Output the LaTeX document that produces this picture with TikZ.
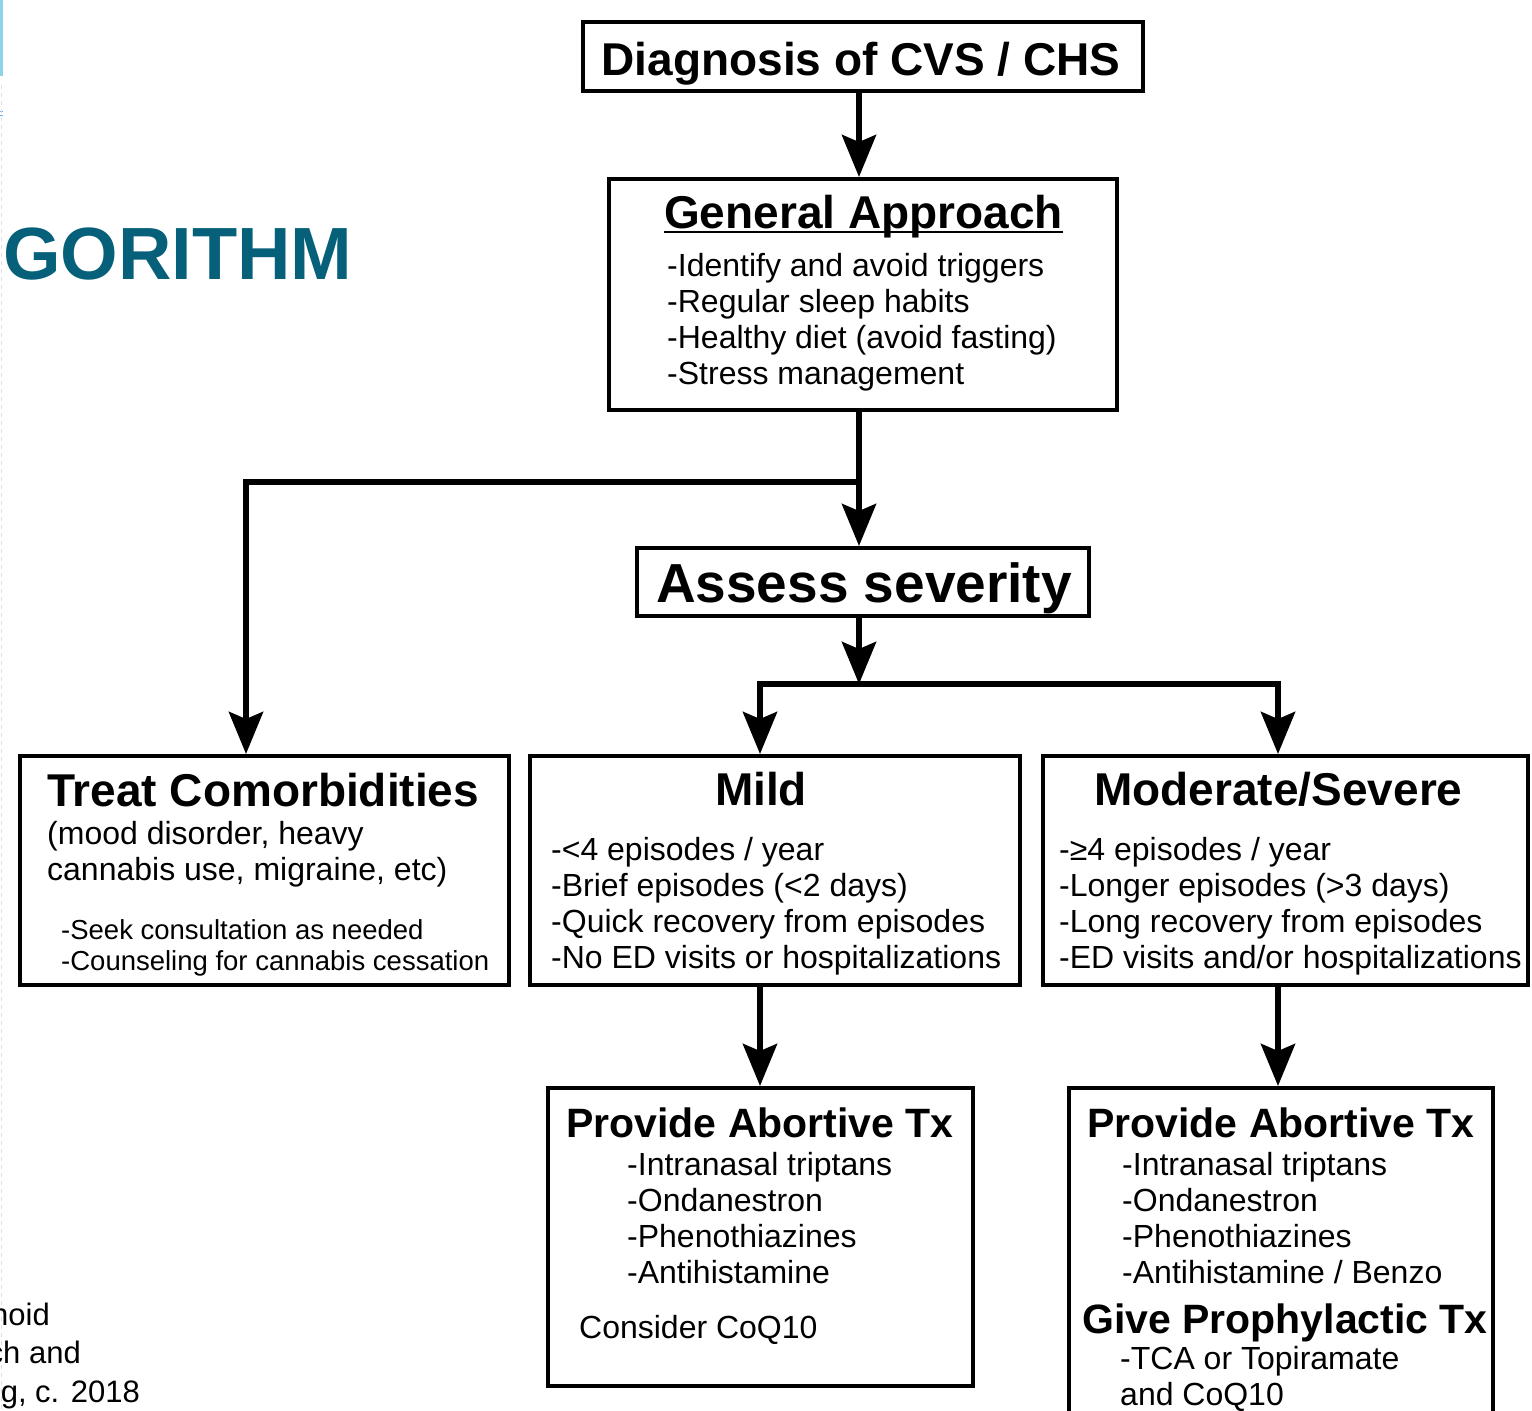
\documentclass[tikz,border=0pt]{standalone}
\usepackage{fontspec}
\setmainfont{Liberation Sans}
\usetikzlibrary{arrows.meta}
\definecolor{slideteal}{HTML}{06607A}
\definecolor{slidebar}{HTML}{8ED3E6}
\begin{document}
\begin{tikzpicture}[x=1pt,y=-1pt,
  box/.style={draw=black, line width=4pt, inner sep=0pt, rectangle},
  arr/.style={line width=6pt, -{Stealth[length=42pt,width=34pt,inset=7pt]}},
  arrtwo/.style={line width=6pt, {Stealth[length=42pt,width=34pt,inset=7pt]}-{Stealth[length=42pt,width=34pt,inset=7pt]}},
  hd/.style={font=\fontsize{46}{50}\selectfont\bfseries, inner sep=0pt},
  hs/.style={font=\fontsize{41}{45}\selectfont\bfseries, inner sep=0pt},
  bd/.style={font=\fontsize{32}{36}\selectfont, inner sep=0pt, anchor=base west},
  sm/.style={font=\fontsize{27.5}{30}\selectfont, inner sep=0pt, anchor=base west},
  edge/.style={font=\fontsize{31}{34}\selectfont, inner sep=0pt, anchor=base east}
]
\useasboundingbox (0,0) rectangle (1532,1411);
\clip (0,0) rectangle (1532,1411);
\fill[white] (0,0) rectangle (1532,1411);

% slide remnants at left edge
\fill[slidebar] (0,0) rectangle (3,76);
\fill[slidebar!80!blue] (0,110.5) rectangle (3,112);
\fill[slidebar!80!blue] (0,114.5) rectangle (3,116);
\draw[black!12, line width=1.5pt, dash pattern=on 4pt off 4pt] (1.5,85) -- (1.5,1411);
\node[font=\fontsize{74}{80}\selectfont\bfseries, text=slideteal, inner sep=0pt, anchor=base west] (algo) at (3,279) {GORITHM};
\node[edge] (ref1) at (50,1325) {noid};
\node[edge] (ref2) at (81,1363) {ch and};
\node[edge] (ref3) at (140,1402) {g, c. 2018};

% boxes
\node[box, minimum width=560pt, minimum height=69pt] (diag) at (863,56.5) {};
\node[box, minimum width=508pt, minimum height=231pt] (gen) at (863,294.5) {};
\node[box, minimum width=452pt, minimum height=68pt] (assess) at (863,582) {};
\node[box, minimum width=489pt, minimum height=229pt] (treat) at (264.5,870.5) {};
\node[box, minimum width=490pt, minimum height=229pt] (mild) at (775,870.5) {};
\node[box, minimum width=485pt, minimum height=229pt] (mod) at (1285.5,870.5) {};
\node[box, minimum width=425pt, minimum height=298pt] (mildtx) at (760.5,1237) {};
\node[box, minimum width=424pt, minimum height=352pt] (modtx) at (1281,1264) {};

% texts
\node[hd, anchor=base] (diagt) at (861,75) {Diagnosis of CVS / CHS};

\node[hd, anchor=base] (gent) at (863.5,228) {General Approach};
\draw[line width=2.5pt] ([yshift=-4pt]gent.base west) -- ([yshift=-4pt]gent.base east);
\node[bd] (g1) at (667,276) {-Identify and avoid triggers};
\node[bd] (g2) at (667,312) {-Regular sleep habits};
\node[bd] (g3) at (667,348) {-Healthy diet (avoid fasting)};
\node[bd] (g4) at (667,384) {-Stress management};

\node[font=\fontsize{55}{60}\selectfont\bfseries, inner sep=0pt, anchor=base] (asst) at (864,602) {Assess severity};

\node[hd, anchor=base west] (treatt) at (47,806) {Treat Comorbidities};
\node[bd] (c1) at (47,844) {(mood disorder, heavy};
\node[bd] (c2) at (47,880) {cannabis use, migraine, etc)};
\node[sm] (c3) at (61,939) {-Seek consultation as needed};
\node[sm] (c4) at (61,970) {-Counseling for cannabis cessation};

\node[hd, anchor=base] (mildt) at (761,805) {Mild};
\node[bd] (m1) at (551,860) {-<4 episodes / year};
\node[bd] (m2) at (551,896) {-Brief episodes (<2 days)};
\node[bd] (m3) at (551,932) {-Quick recovery from episodes};
\node[bd] (m4) at (551,968) {-No ED visits or hospitalizations};

\node[hd, anchor=base] (modt) at (1278.5,805) {Moderate/Severe};
\node[bd] (s1) at (1059,860) {-≥4 episodes / year};
\node[bd] (s2) at (1059,896) {-Longer episodes (>3 days)};
\node[bd] (s3) at (1059,932) {-Long recovery from episodes};
\node[bd] (s4) at (1059,968) {-ED visits and/or hospitalizations};

\node[hs, anchor=base] (mtxt) at (760,1137) {Provide Abortive Tx};
\node[bd] (a1) at (627,1175) {-Intranasal triptans};
\node[bd] (a2) at (627,1211) {-Ondanestron};
\node[bd] (a3) at (627,1247) {-Phenothiazines};
\node[bd] (a4) at (627,1283) {-Antihistamine};
\node[bd] (a5) at (579,1338) {Consider CoQ10};

\node[hs, anchor=base] (stxt) at (1281,1137) {Provide Abortive Tx};
\node[bd] (b1) at (1122,1175) {-Intranasal triptans};
\node[bd] (b2) at (1122,1211) {-Ondanestron};
\node[bd] (b3) at (1122,1247) {-Phenothiazines};
\node[bd] (b4) at (1122,1283) {-Antihistamine / Benzo};
\node[hs, anchor=base] (proph) at (1285,1333) {Give Prophylactic Tx};
\node[bd] (b5) at (1120,1369) {-TCA or Topiramate};
\node[bd] (b6) at (1120,1405) {and CoQ10};

% connectors
\coordinate (br1) at (859,482);
\coordinate (split) at (859,684);
\draw[arr] ([xshift=-4pt]diag.south) -- ([xshift=-4pt]gen.north);
\draw[arr] ([xshift=-4pt]gen.south) -- (br1) -| ([xshift=-18.5pt]treat.north);
\draw[arr] (br1) -- ([xshift=-4pt]assess.north);
\draw[arr] ([xshift=-4pt]assess.south) -- (split);
\draw[arrtwo] ([xshift=-15pt]mild.north) |- (split) -| ([xshift=-7.5pt]mod.north);
\draw[arr] ([xshift=-15pt]mild.south) -- ([xshift=-0.5pt]mildtx.north);
\draw[arr] ([xshift=-7.5pt]mod.south) -- ([xshift=-3pt]modtx.north);
\end{tikzpicture}
\end{document}
